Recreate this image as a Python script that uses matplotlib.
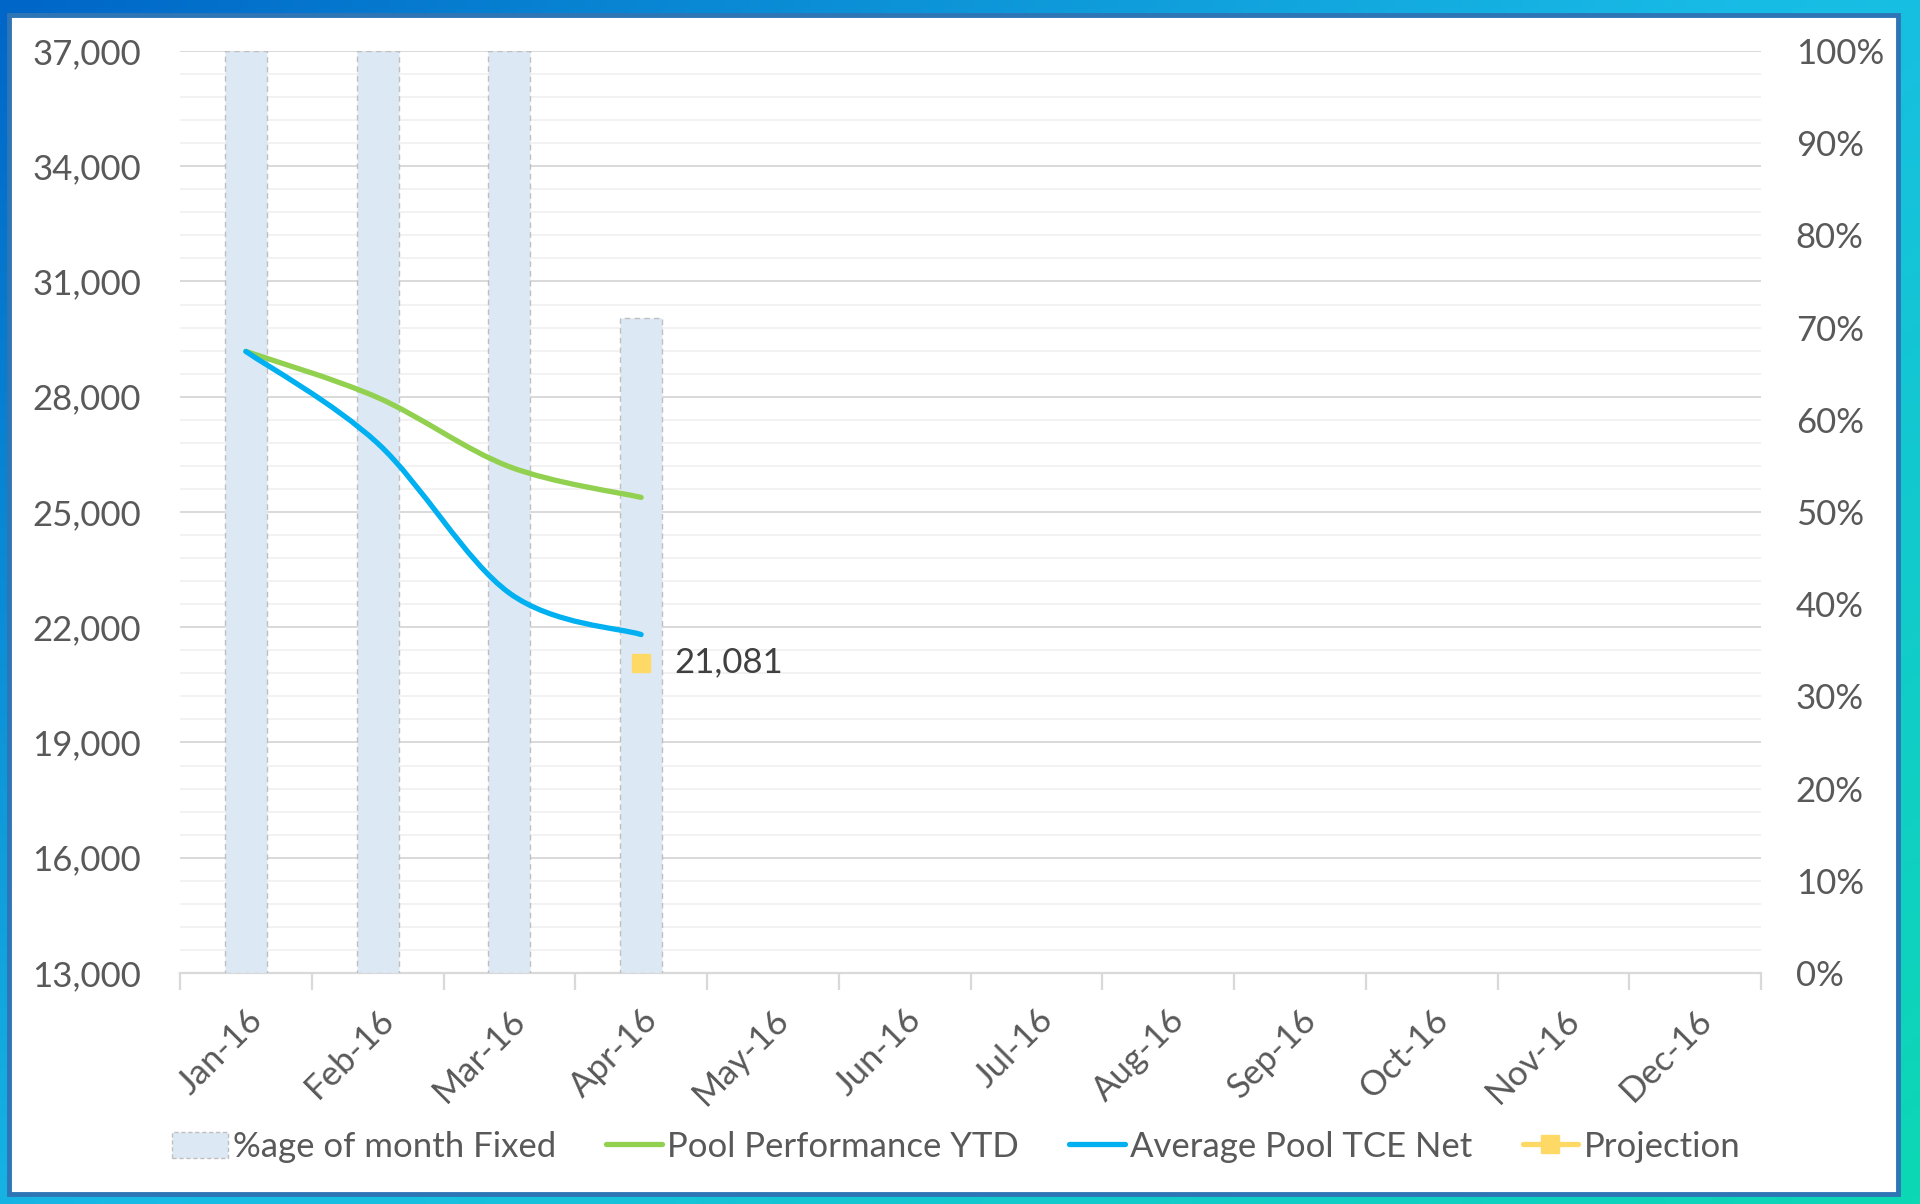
import numpy as np
import matplotlib
matplotlib.use("Agg")
import matplotlib.pyplot as plt
from matplotlib.path import Path
from matplotlib.patches import PathPatch, Rectangle, Patch
from matplotlib.lines import Line2D
from matplotlib.ticker import MultipleLocator, FuncFormatter, FixedLocator, NullFormatter

plt.rcParams['font.family'] = ['Lato', 'DejaVu Sans']

# ---------------- data ----------------
months = ["Jan-16", "Feb-16", "Mar-16", "Apr-16", "May-16", "Jun-16",
          "Jul-16", "Aug-16", "Sep-16", "Oct-16", "Nov-16", "Dec-16"]
pct_fixed = [1.00, 1.00, 1.00, 0.71]
pool_ytd = [29180, 27980, 26180, 25380]
avg_tce = [29180, 26790, 22890, 21810]
projection_idx = 3
projection_val = 21081
y_min, y_max, y_step, y_minor = 13000, 37000, 3000, 600

TXT = "#595959"
C_BAR = "#dde8f5"
C_GREEN = "#92d050"
C_BLUE = "#00b0f0"
C_PROJ = "#ffd966"
FS = 25

W, H = 1920, 1204
fig = plt.figure(figsize=(W / 100, H / 100), dpi=100)

# ---------- background gradient frame ----------
bg = fig.add_axes([0, 0, 1, 1], zorder=-10)
bg.set_axis_off()
gx, gy = np.meshgrid(np.linspace(0, 1, 256), np.linspace(0, 1, 160))
t = np.clip(0.55 * gx + 0.45 * gy, 0, 1)
c0 = np.array([0x00, 0x66, 0xc8]) / 255
c1 = np.array([0x18, 0xbc, 0xe6]) / 255
c2 = np.array([0x0c, 0xd8, 0xb4]) / 255
img = np.where(t[..., None] < 0.5,
               c0 + (c1 - c0) * (t[..., None] / 0.5),
               c1 + (c2 - c1) * ((t[..., None] - 0.5) / 0.5))
bg.imshow(img, extent=[0, 1, 0, 1], aspect='auto', origin='upper')
bg.set_xlim(0, 1)
bg.set_ylim(0, 1)
bg.add_patch(Rectangle((9 / W, 1 - 1194 / H), (1898 - 9) / W, (1194 - 15) / H,
                       facecolor='white', edgecolor='#2e75b6', linewidth=3.5,
                       transform=bg.transAxes))

# ---------- axes ----------
left, right = 180 / W, 1761 / W
bottom, top = 1 - 973 / H, 1 - 51 / H
ax = fig.add_axes([left, bottom, right - left, top - bottom])
ax.patch.set_visible(False)
x = np.arange(len(months))
ax.set_xlim(-0.5, len(months) - 0.5)
ax.set_ylim(y_min, y_max)
ax.yaxis.set_major_locator(FixedLocator(np.arange(y_min, y_max + 1, y_step)))
ax.yaxis.set_minor_locator(FixedLocator(np.arange(y_min, y_max + 1, y_minor)))
ax.yaxis.set_major_formatter(FuncFormatter(lambda v, p: f"{int(v):,}"))
ax.grid(axis='y', which='major', color='#d9d9d9', linewidth=1.4)
ax.grid(axis='y', which='minor', color='#f2f2f2', linewidth=1.4)
ax.set_axisbelow(True)
for s in ['top', 'right', 'left']:
    ax.spines[s].set_visible(False)
ax.spines['bottom'].set_color('#d9d9d9')
ax.spines['bottom'].set_linewidth(1.6)
ax.tick_params(axis='y', which='both', length=0, labelsize=FS, labelcolor=TXT, pad=28)
ax.xaxis.set_major_locator(FixedLocator(np.arange(-0.5, len(months), 1.0)))
ax.xaxis.set_major_formatter(NullFormatter())
ax.xaxis.set_minor_locator(FixedLocator(x))
ax.set_xticklabels(months, minor=True)
ax.tick_params(axis='x', which='major', length=12, width=1.6, color='#d9d9d9', direction='out')
ax.tick_params(axis='x', which='minor', length=0, labelsize=FS, labelcolor=TXT, pad=22)
for lab in ax.get_xticklabels(minor=True):
    lab.set_rotation(45)
    lab.set_ha('right')
    lab.set_va('top')
    lab.set_rotation_mode('anchor')

# bars on percent axis
axb = ax.twinx()
axb.set_ylim(0, 1)
axb.yaxis.set_major_locator(MultipleLocator(0.1))
axb.yaxis.set_major_formatter(FuncFormatter(lambda v, p: f"{v:.0%}"))
axb.tick_params(axis='y', length=0, labelsize=FS, labelcolor=TXT, pad=25)
for s in axb.spines.values():
    s.set_visible(False)
axb.bar(x[:len(pct_fixed)], pct_fixed, width=0.32, color=C_BAR,
        edgecolor='#bfbfbf', linewidth=1.0, linestyle=(0, (4, 3)))

# lines axis
axl = ax.twinx()
axl.set_ylim(ax.get_ylim())
axl.set_yticks([])
for s in axl.spines.values():
    s.set_visible(False)


def smooth_path(xs, ys):
    pts = np.column_stack([xs, ys]).astype(float)
    n = len(pts)
    verts = [pts[0]]
    codes = [Path.MOVETO]
    for i in range(n - 1):
        p0 = pts[max(i - 1, 0)]
        p1 = pts[i]
        p2 = pts[i + 1]
        p3 = pts[min(i + 2, n - 1)]
        c1 = p1 + (p2 - p0) / 6
        c2 = p2 - (p3 - p1) / 6
        verts += [c1, c2, p2]
        codes += [Path.CURVE4] * 3
    return Path(verts, codes)


LW = 3.8
for series, col in [(pool_ytd, C_GREEN), (avg_tce, C_BLUE)]:
    pp = PathPatch(smooth_path(x[:len(series)], series), fill=False,
                   edgecolor=col, linewidth=LW, capstyle='round', joinstyle='round')
    axl.add_patch(pp)

axl.plot([x[projection_idx]], [projection_val], marker='s', markersize=13,
         color=C_PROJ, linestyle='none')
axl.annotate(f"{projection_val:,}", (x[projection_idx], projection_val),
             xytext=(24, 0), textcoords='offset points', va='center', ha='left',
             fontsize=FS, color='#404040')

handles = [
    Patch(facecolor=C_BAR, edgecolor='#bfbfbf', linestyle=(0, (3, 2)), linewidth=1.0),
    Line2D([0], [0], color=C_GREEN, linewidth=LW, solid_capstyle='round'),
    Line2D([0], [0], color=C_BLUE, linewidth=LW, solid_capstyle='round'),
    Line2D([0], [0], color=C_PROJ, linewidth=LW, marker='s', markersize=13,
           solid_capstyle='round'),
]
labels = ["%age of month Fixed", "Pool Performance YTD", "Average Pool TCE Net", "Projection"]
fig.legend(handles, labels, loc='center', bbox_to_anchor=(0.498, 1 - 1147 / H), ncol=4,
           frameon=False, fontsize=FS, labelcolor=TXT, handlelength=1.6,
           handletextpad=0.15, columnspacing=1.45, handleheight=0.8)

fig.savefig("out.png", dpi=100)
